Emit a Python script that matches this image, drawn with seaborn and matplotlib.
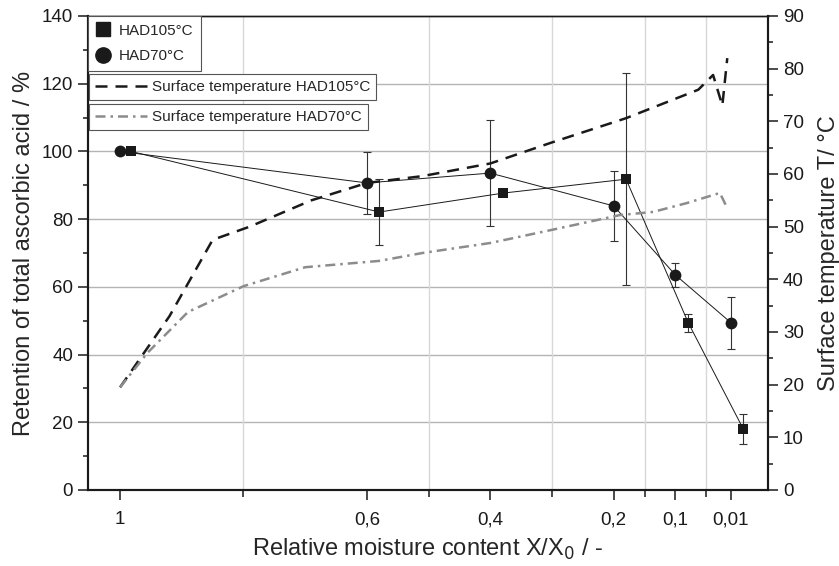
import numpy as np
import pandas as pd
import matplotlib
matplotlib.use("Agg")
import matplotlib.pyplot as plt
from matplotlib.lines import Line2D
import seaborn as sns

sns.set_theme(style="ticks")
plt.rcParams['font.family'] = ['Liberation Sans', 'DejaVu Sans']

# retention of total ascorbic acid (%)
x105 = [0.982, 0.58, 0.379, 0.18, 0.079, -0.01]
ret105 = [100, 82.1, 87.7, 91.8, 49.3, 18.0]
err105 = [0, 9.7, 0, 31.3, 2.7, 4.3]

x70 = [1.0, 0.6, 0.4, 0.2, 0.1, 0.01]
ret70 = [100, 90.7, 93.6, 83.9, 63.5, 49.4]
err70 = [0, 9.1, 15.6, 10.4, 3.5, 7.7]

# surface temperature (°C)
xt105 = [1.0, 0.92, 0.85, 0.79, 0.69, 0.6, 0.51, 0.4, 0.3, 0.18, 0.063, 0.039, 0.024, 0.016]
t105 = [19.5, 33.0, 47.5, 50.0, 55.0, 58.3, 59.6, 62.0, 66.0, 70.6, 76.0, 78.8, 73.0, 82.0]

xt70 = [1.0, 0.956, 0.89, 0.8, 0.7, 0.58, 0.51, 0.4, 0.3, 0.19, 0.136, 0.081, 0.039, 0.028, 0.018]
t70 = [19.5, 26.0, 33.8, 38.7, 42.3, 43.5, 45.0, 46.9, 49.4, 52.2, 52.8, 54.5, 56.0, 56.4, 54.0]

xticks = [1, 0.6, 0.4, 0.2, 0.1, 0.01]
xticklabels = ["1", "0,6", "0,4", "0,2", "0,1", "0,01"]
xminor = [0.8, 0.5, 0.3, 0.15, 0.05]

df105 = pd.DataFrame({"x": x105, "ret": ret105, "err": err105})
df70 = pd.DataFrame({"x": x70, "ret": ret70, "err": err70})
dft105 = pd.DataFrame({"x": xt105, "T": t105})
dft70 = pd.DataFrame({"x": xt70, "T": t70})

W, H = 839, 566
fig = plt.figure(figsize=(W / 100, H / 100), dpi=100)
ax = fig.add_axes([88 / W, 1 - 490 / H, (768 - 88) / W, (490 - 16) / H])
ax2 = ax.twinx()

# grid
for v in [20, 40, 60, 80, 100, 120]:
    ax.axhline(v, color="#b4b4b4", lw=1.0, zorder=0)
for v in xminor:
    ax.axvline(v, color="#d8d8d8", lw=1.0, zorder=0)

# error bars
ax.errorbar(df70["x"], df70["ret"], yerr=df70["err"], fmt="none", ecolor="#333333",
            elinewidth=0.8, capsize=3.2, capthick=0.8, zorder=2)
ax.errorbar(df105["x"], df105["ret"], yerr=df105["err"], fmt="none", ecolor="#333333",
            elinewidth=0.8, capsize=3.2, capthick=0.8, zorder=2)

sns.lineplot(data=df70, x="x", y="ret", ax=ax, sort=False, estimator=None, color="k",
             lw=0.7, marker="o", markersize=8.5, markeredgewidth=0, zorder=3)
sns.lineplot(data=df105, x="x", y="ret", ax=ax, sort=False, estimator=None, color="k",
             lw=0.7, marker="s", markersize=7.5, markeredgewidth=0, zorder=3)

sns.lineplot(data=dft105, x="x", y="T", ax=ax2, sort=False, estimator=None, color="k",
             lw=1.8, linestyle=(0, (4.8, 3.2)))
sns.lineplot(data=dft70, x="x", y="T", ax=ax2, sort=False, estimator=None, color="#8c8c8c",
             lw=1.8, linestyle=(0, (4.0, 2.0, 1.0, 2.0)))

ax.set_xlim(1.052, -0.05)
ax.set_ylim(0, 140)
ax2.set_ylim(0, 90)

ax.set_xticks(xticks)
ax.set_xticklabels(xticklabels)
ax.set_xticks(xminor, minor=True)
ax.set_yticks(range(0, 141, 20))
ax.set_yticks(range(10, 140, 20), minor=True)
ax2.set_yticks(range(0, 91, 10))
ax2.set_yticks(range(5, 90, 10), minor=True)

for a in (ax, ax2):
    a.tick_params(which="major", direction="out", length=7.2, width=1.1, labelsize=13.5, colors="k")
    a.tick_params(which="minor", direction="out", length=3.8, width=1.1, colors="k")
    for s in a.spines.values():
        s.set_color("k")
        s.set_linewidth(1.5)
    a.spines["top"].set_linewidth(1.0)
ax.tick_params(axis="x", which="minor", length=5)
ax.tick_params(axis="x", pad=8)

ax.set_xlabel("Relative moisture content X/X$_0$ / -", fontsize=17, labelpad=6)
ax.set_ylabel("Retention of total ascorbic acid / %", fontsize=17, labelpad=5)
ax2.set_ylabel("Surface temperature T/ °C", fontsize=17, labelpad=10)

# legends
lfs = 11
h1 = [Line2D([], [], color="k", marker="s", markersize=10, linestyle="none"),
      Line2D([], [], color="k", marker="o", markersize=11, linestyle="none")]
leg1 = ax2.legend(h1, ["HAD105°C", "HAD70°C"], loc="upper left",
                  bbox_to_anchor=(88 / W, 1 - 16 / H), bbox_transform=fig.transFigure,
                  fontsize=lfs, frameon=True, fancybox=False, borderaxespad=0,
                  handlelength=1.0, handletextpad=0.5, labelspacing=0.75, borderpad=0.5)
h2 = [Line2D([], [], color="k", lw=1.8, linestyle=(0, (4.8, 3.2)))]
leg2 = ax2.legend(h2, ["Surface temperature HAD105°C"], loc="upper left",
                  bbox_to_anchor=(89 / W, 1 - 74 / H), bbox_transform=fig.transFigure,
                  fontsize=lfs, frameon=True, fancybox=False, borderaxespad=0,
                  handlelength=3.4, handletextpad=0.3)
h3 = [Line2D([], [], color="#8c8c8c", lw=1.8, linestyle=(0, (4.0, 2.0, 1.0, 2.0)))]
leg3 = ax2.legend(h3, ["Surface temperature HAD70°C"], loc="upper left",
                  bbox_to_anchor=(89 / W, 1 - 104 / H), bbox_transform=fig.transFigure,
                  fontsize=lfs, frameon=True, fancybox=False, borderaxespad=0,
                  handlelength=3.4, handletextpad=0.3)
for lg in (leg1, leg2, leg3):
    lg.get_frame().set_edgecolor("#555555")
    lg.get_frame().set_linewidth(0.8)
    lg.get_frame().set_alpha(1)
ax2.add_artist(leg1)
ax2.add_artist(leg2)

fig.savefig("out.png", dpi=100)
